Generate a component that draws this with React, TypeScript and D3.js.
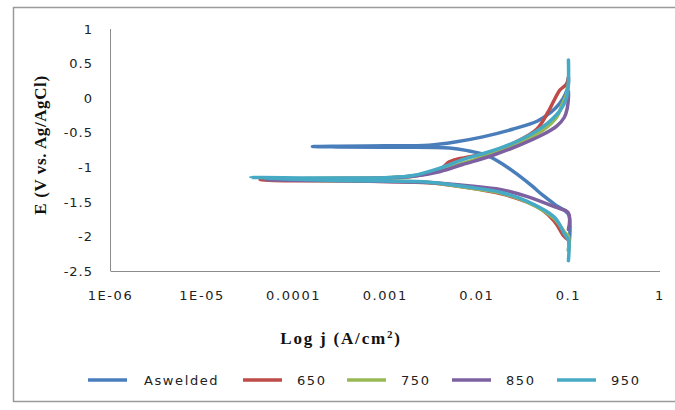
import React, { useRef, useEffect } from "react";
import * as d3 from "d3";

// Tafel data: [current density (A/cm2), E (V)]
const aswelded = [
  [0.1, -2.2], [0.1, -1.68], [0.075, -1.56], [0.052, -1.4], [0.04, -1.27],
  [0.0275, -1.1], [0.02, -0.97], [0.013, -0.83], [0.008, -0.76], [0.005, -0.72],
  [0.001, -0.71], [0.0003, -0.705], [0.00016, -0.7], [0.0003, -0.695], [0.001, -0.69],
  [0.003, -0.68], [0.006, -0.63], [0.0116, -0.56], [0.0245, -0.45], [0.046, -0.33],
  [0.065, -0.2], [0.08, -0.08], [0.092, 0.05], [0.1, 0.2], [0.1, 0.3],
];
const s650 = [
  [0.1, -2.05], [0.09, -2.0], [0.07, -1.78], [0.05, -1.6], [0.035, -1.5],
  [0.018, -1.38], [0.0085, -1.3], [0.003, -1.225], [0.001, -1.205], [0.0002, -1.195],
  [0.00006, -1.19], [0.000043, -1.18], [0.00006, -1.17], [0.0002, -1.165], [0.001, -1.155],
  [0.002, -1.13], [0.004, -1.03], [0.005, -0.92], [0.0062, -0.88], [0.0055, -0.9],
  [0.0068, -0.87], [0.014, -0.78], [0.028, -0.62], [0.045, -0.45], [0.06, -0.2],
  [0.068, -0.06], [0.081, 0.12], [0.095, 0.2], [0.1, 0.3],
];
const s750 = [
  [0.1, -2.2], [0.1, -2.0], [0.092, -1.95], [0.07, -1.74], [0.035, -1.5],
  [0.018, -1.37], [0.0085, -1.3], [0.003, -1.22], [0.001, -1.2], [0.0002, -1.19],
  [0.00005, -1.175], [0.0002, -1.16], [0.001, -1.15], [0.002, -1.125], [0.004, -1.04],
  [0.008, -0.92], [0.0095, -0.89], [0.014, -0.8], [0.028, -0.65], [0.052, -0.47],
  [0.075, -0.27], [0.085, -0.1], [0.095, 0.05], [0.1, 0.2],
];
const s850 = [
  [0.1, -1.9], [0.1, -1.66], [0.07, -1.57], [0.035, -1.42], [0.018, -1.32],
  [0.0085, -1.27], [0.003, -1.22], [0.001, -1.205], [0.0002, -1.19], [0.00005, -1.18],
  [0.0002, -1.165], [0.001, -1.155], [0.002, -1.13], [0.004, -1.06], [0.007, -0.96],
  [0.014, -0.84], [0.028, -0.69], [0.052, -0.53], [0.075, -0.4], [0.09, -0.28],
  [0.097, -0.15], [0.1, 0.0], [0.1, 0.1],
];
const s950 = [
  [0.1, -2.35], [0.1, -2.05], [0.092, -1.98], [0.07, -1.72], [0.035, -1.49],
  [0.018, -1.36], [0.0085, -1.29], [0.003, -1.215], [0.001, -1.2], [0.0002, -1.185],
  [0.000034, -1.15], [0.0002, -1.155], [0.001, -1.15], [0.002, -1.12], [0.004, -1.01],
  [0.007, -0.89], [0.014, -0.77], [0.028, -0.62], [0.052, -0.42], [0.081, -0.18],
  [0.095, 0.0], [0.1, 0.25], [0.1, 0.55],
];

const seriesNames = ["Aswelded", "650", "750", "850", "950"];
const seriesData = [aswelded, s650, s750, s850, s950];
const colors = ["#4A7EBB", "#BE4B48", "#98B954", "#7D60A0", "#46AAC5"];

const xTicks = [1e-6, 1e-5, 1e-4, 1e-3, 1e-2, 1e-1, 1];
const xTickLabels = ["1E-06", "1E-05", "0.0001", "0.001", "0.01", "0.1", "1"];
const yTicks = [1, 0.5, 0, -0.5, -1, -1.5, -2, -2.5];

const legendX = [88, 243, 347, 452, 557];

const App = () => {
  const ref = useRef<SVGSVGElement>(null);

  useEffect(() => {
    const svg = d3.select(ref.current);
    svg.selectAll("*").remove();

    const x = d3.scaleLog().domain([1e-6, 1]).range([110.5, 660]);
    const y = d3.scaleLinear().domain([-2.5, 1]).range([271, 29]);

    // outer frame
    svg
      .append("path")
      .attr("d", "M690,7.5 H13.5 V401.5 H690")
      .attr("fill", "none")
      .attr("stroke", "#9a9a9a")
      .attr("stroke-width", 1.5);

    // axes lines
    svg
      .append("line")
      .attr("x1", 110.5).attr("x2", 110.5)
      .attr("y1", y(1)).attr("y2", y(-2.5))
      .attr("stroke", "#8c8c8c");
    svg
      .append("line")
      .attr("x1", 110.5).attr("x2", 660)
      .attr("y1", y(-2.5) + 0.5).attr("y2", y(-2.5) + 0.5)
      .attr("stroke", "#8c8c8c");

    const tickFont = "'DejaVu Sans', sans-serif";

    svg
      .append("g")
      .selectAll("text")
      .data(yTicks)
      .join("text")
      .attr("x", 93)
      .attr("y", (d) => y(d))
      .attr("dy", "0.36em")
      .attr("text-anchor", "end")
      .attr("font-family", tickFont)
      .attr("font-size", 13)
      .attr("letter-spacing", 1)
      .attr("fill", "#222")
      .text((d) => String(d));

    svg
      .append("g")
      .selectAll("text")
      .data(xTicks)
      .join("text")
      .attr("x", (d) => x(d))
      .attr("y", 300)
      .attr("text-anchor", "middle")
      .attr("font-family", tickFont)
      .attr("font-size", 13)
      .attr("letter-spacing", 1.6)
      .attr("fill", "#222")
      .text((d, i) => xTickLabels[i]);

    // axis titles
    svg
      .append("text")
      .attr("transform", "translate(46,145) rotate(-90)")
      .attr("text-anchor", "middle")
      .attr("font-family", "'Liberation Serif', serif")
      .attr("font-weight", "bold")
      .attr("font-size", 17)
      .attr("letter-spacing", 0.6)
      .attr("fill", "#111")
      .text("E (V vs. Ag/AgCl)");

    const xt = svg
      .append("text")
      .attr("x", 341)
      .attr("y", 344)
      .attr("text-anchor", "middle")
      .attr("font-family", "'Liberation Serif', serif")
      .attr("font-weight", "bold")
      .attr("font-size", 17)
      .attr("letter-spacing", 1.8)
      .attr("fill", "#111");
    xt.append("tspan").text("Log j (A/cm");
    xt.append("tspan").attr("font-size", 11).attr("dy", -6).text("2");
    xt.append("tspan").attr("dy", 6).text(")");

    // curves
    const line = d3
      .line<number[]>()
      .x((d) => x(d[0]))
      .y((d) => y(d[1]))
      .curve(d3.curveCatmullRom.alpha(0.5));

    svg
      .append("g")
      .selectAll("path")
      .data(seriesData)
      .join("path")
      .attr("d", (d) => line(d))
      .attr("fill", "none")
      .attr("stroke", (d, i) => colors[i])
      .attr("stroke-width", 3.5)
      .attr("stroke-linejoin", "round")
      .attr("stroke-linecap", "round");

    // legend
    const leg = svg
      .append("g")
      .selectAll("g")
      .data(seriesNames)
      .join("g")
      .attr("transform", (d, i) => `translate(${legendX[i]},380)`);
    leg
      .append("line")
      .attr("x1", 0).attr("x2", 39)
      .attr("stroke", (d, i) => colors[i])
      .attr("stroke-width", 3.5);
    leg
      .append("text")
      .attr("x", (d, i) => (i === 0 ? 56 : 54))
      .attr("dy", "0.36em")
      .attr("font-family", tickFont)
      .attr("font-size", 13)
      .attr("letter-spacing", 1.6)
      .attr("fill", "#222")
      .text((d) => d);
  }, []);

  return (
    <svg
      ref={ref}
      width="675"
      height="410"
      style={{ position: "absolute", left: 0, top: 0, background: "#fff" }}
    />
  );
};

export default App;
